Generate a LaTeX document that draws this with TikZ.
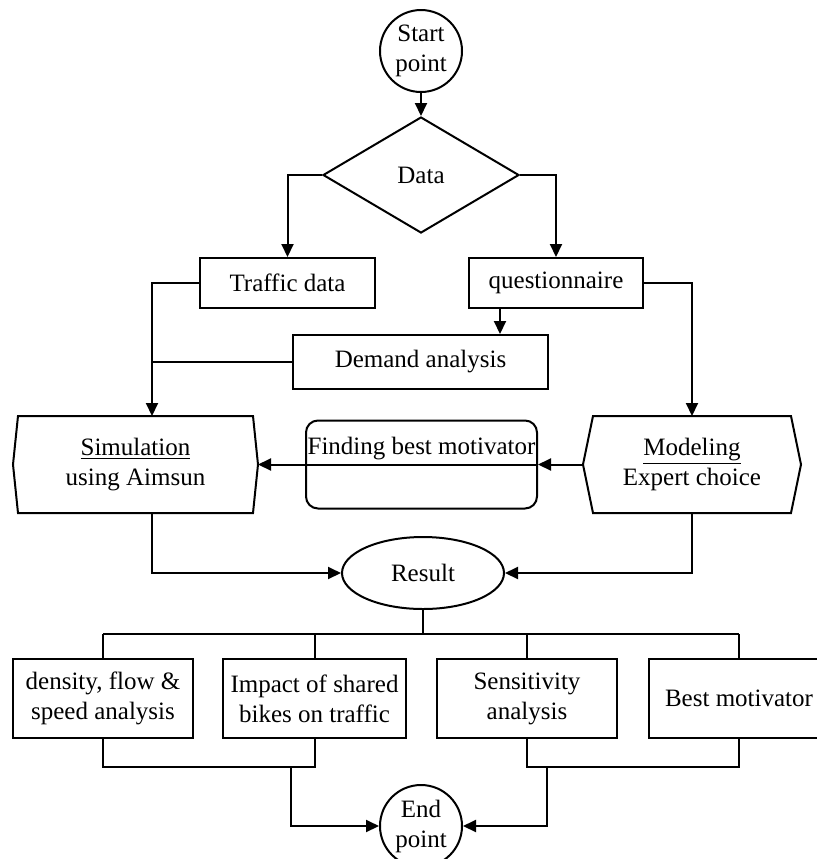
\documentclass[tikz,border=0pt]{standalone}
\usepackage{fontspec}
\setmainfont{Liberation Serif}
\usepackage{tikz}
\usetikzlibrary{arrows.meta,positioning,shapes,calc}
\tikzset{
  flowbox/.style={
    draw, line width=1pt, rectangle, align=center, inner sep=0pt
  },
  termcircle/.style={
    draw, line width=1pt, circle, align=center,
    inner sep=0pt, minimum size=41pt
  },
  decision/.style={
    draw, line width=1pt, diamond, aspect=1.69, inner sep=0pt,
    minimum width=98pt, minimum height=58pt
  },
  hexbox/.style={rectangle, align=center, inner sep=0pt, outer sep=0pt},
  roundbox/.style={
    draw, line width=1pt, rectangle, rounded corners=6pt,
    minimum width=115.5pt, minimum height=44pt
  },
  resultoval/.style={
    draw, line width=1pt, ellipse, inner sep=0pt,
    minimum width=81pt, minimum height=36pt
  },
  link/.style={line width=1pt},
  arrow/.style={link, -{Triangle[length=6.5pt,width=6pt]}}
}

\begin{document}
\begin{tikzpicture}[x=0.5pt,y=-0.5pt,font=\fontsize{12.5}{15}\selectfont]
  \useasboundingbox (0,0) rectangle (817,859);

  % top part
  \node[termcircle] (start) at (421,51) {Start\\point};
  \node[decision] (data) at (421,175) {Data};
  \node[flowbox,minimum width=87.5pt,minimum height=25pt] (traffic) at (287.5,283) {Traffic data};
  \node[flowbox,minimum width=87pt,minimum height=25pt] (quest) at (556,283) {questionnaire};
  \node[flowbox,minimum width=127.5pt,minimum height=27pt] (demand) at (420.5,362) {Demand analysis};

  % middle row
  \node[hexbox,minimum width=122.5pt,minimum height=48.5pt] (simu) at (135.5,464.5) {\underline{Simulation}\\using Aimsun};
  \node[hexbox,minimum width=109pt,minimum height=48.5pt] (model) at (692,464.5) {\underline{Modeling}\\Expert choice};
  \foreach \n/\d in {simu/5,model/10} {
    \draw[link] ($(\n.north west)+(\d,0)$) -- ($(\n.north east)+(-\d,0)$) -- (\n.east)
      -- ($(\n.south east)+(-\d,0)$) -- ($(\n.south west)+(\d,0)$) -- (\n.west) -- cycle;
  }
  \node[roundbox] (finding) at (421.5,464.5) {};
  \draw[link] (finding.west) -- (finding.east);
  \node (findtext) at (421.5,449) {Finding best motivator};

  \node[resultoval] (result) at (423,573) {Result};

  % bottom row
  \foreach \n/\x/\w/\lab in {dens/103/90/{density, flow \&\\speed analysis},
                             impact/314.5/91.5/{Impact of shared\\bikes on traffic},
                             sens/527/90/{Sensitivity\\analysis},
                             bestmot/739/90.5/{Best motivator}} {
    \node[flowbox,minimum width=\w pt,minimum height=39.5pt] (\n) at (\x,698.5) {\lab};
  }
  \node[termcircle] (endpt) at (421,826) {End\\point};

  % connectors
  \coordinate (simin) at ($(simu.north)+(16.5,0)$);
  \coordinate (simout) at ($(simu.south)+(16.5,0)$);
  \draw[arrow] (start) -- (data);
  \draw[arrow] (data.west) -| (traffic.north);
  \draw[arrow] (data.east) -| (quest.north);
  \draw[arrow] (traffic.west) -| (simin);
  \draw[link] (demand.west) -- (demand.west -| simin);
  \draw[arrow] ([xshift=-28pt]quest.south) -- ([xshift=-28pt]quest.south |- demand.north);
  \draw[arrow] (quest.east) -| (model.north);
  \draw[arrow] (model.west) -- (finding.east);
  \draw[arrow] (finding.west) -- (simu.east);
  \draw[arrow] (simout) |- (result.west);
  \draw[arrow] (model.south) |- (result.east);

  \coordinate (bus) at ($(result.south)+(0,24)$);
  \draw[link] (result.south) -- (bus);
  \draw[link] (dens.north |- bus) -- (bestmot.north |- bus);
  \foreach \b in {dens,impact,sens,bestmot} {
    \draw[link] (\b.north) -- (\b.north |- bus);
  }
  \coordinate (ljoin) at (291,767);
  \coordinate (rjoin) at (547,767);
  \draw[link] (dens.south) |- (ljoin) -| (impact.south);
  \draw[link] (sens.south) |- (rjoin) -| (bestmot.south);
  \draw[arrow] (ljoin) |- (endpt.west);
  \draw[arrow] (rjoin) |- (endpt.east);
\end{tikzpicture}
\end{document}
